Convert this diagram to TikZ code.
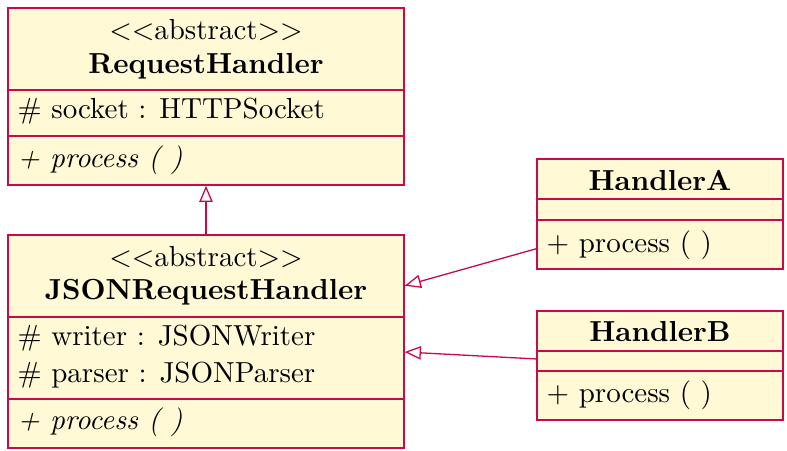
\documentclass[tikz,border=0pt]{standalone}
\usetikzlibrary{arrows.meta,fit}
\definecolor{umlline}{RGB}{200,10,75}
\definecolor{umlfill}{RGB}{255,249,214}
\begin{document}
\begin{tikzpicture}[x=0.345pt,y=-0.345pt,
  umlbox/.style={draw=umlline,fill=umlfill,line width=0.45pt,inner sep=0pt,rectangle},
  sep/.style={draw=umlline,line width=0.45pt},
  ctext/.style={inner sep=0pt,anchor=center},
  ltext/.style={inner sep=0pt,anchor=west},
  inherit/.style={draw=umlline,line width=0.45pt,-{Triangle[open,length=5.6pt,width=4.6pt]}}]
\useasboundingbox (0,0) rectangle (787,450);
% RequestHandler
\node[umlbox,fit={(8,8) (404,185)}] (rh) {};
\draw[sep] (8,90) -- (404,90);
\draw[sep] (8,136) -- (404,136);
\node[ctext] (rhs) at (206,30) {$<<$abstract$>>$};
\node[ctext] (rhn) at (206,66) {\textbf{RequestHandler}};
\node[ltext] (rha) at (17,111) {\# socket : HTTPSocket};
\node[ltext] (rhm) at (17,160) {\textit{+ process ( )}};
% JSONRequestHandler
\node[umlbox,fit={(8,235) (404,448)}] (jr) {};
\draw[sep] (8,317) -- (404,317);
\draw[sep] (8,399) -- (404,399);
\node[ctext] (jrs) at (206,257) {$<<$abstract$>>$};
\node[ctext] (jrn) at (206,292) {\textbf{JSONRequestHandler}};
\node[ltext] (jra1) at (17,338) {\# writer : JSONWriter};
\node[ltext] (jra2) at (17,375) {\# parser : JSONParser};
\node[ltext] (jrm) at (17,422) {\textit{+ process ( )}};
% HandlerA
\node[umlbox,fit={(537,159) (783,269)}] (ha) {};
\draw[sep] (537,199) -- (783,199);
\draw[sep] (537,220) -- (783,220);
\node[ctext] (han) at (660,180) {\textbf{HandlerA}};
\node[ltext] (ham) at (546,245) {+ process ( )};
% HandlerB
\node[umlbox,fit={(537,311) (783,420)}] (hb) {};
\draw[sep] (537,351) -- (783,351);
\draw[sep] (537,371) -- (783,371);
\node[ctext] (hbn) at (660,332) {\textbf{HandlerB}};
\node[ltext] (hbm) at (546,395) {+ process ( )};
% connectors
\draw[inherit] (jr) -- (rh);
\draw[inherit] (ha) -- (jr);
\draw[inherit] (hb) -- (jr);
\end{tikzpicture}
\end{document}
